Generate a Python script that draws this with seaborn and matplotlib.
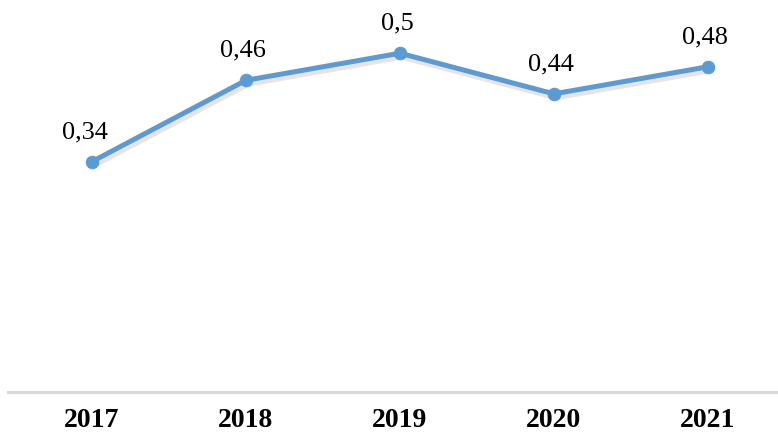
import matplotlib
matplotlib.use('Agg')
import matplotlib.pyplot as plt
import matplotlib.transforms as mtransforms
import seaborn as sns
import pandas as pd

# Data
years = ['2017', '2018', '2019', '2020', '2021']
values = [0.34, 0.46, 0.50, 0.44, 0.48]
labels = ['0,34', '0,46', '0,5', '0,44', '0,48']

df = pd.DataFrame({'year': years, 'value': values})

sns.set_style('white')
plt.rcParams['font.family'] = ['Liberation Serif', 'DejaVu Serif']

fig = plt.figure(figsize=(7.78, 4.35), dpi=100)
ax = fig.add_axes([8 / 778, 42 / 435, 770 / 778, 393 / 435])

line_color = '#5B9BD5'

# soft shadow under the line
shadow = ax.transData + mtransforms.ScaledTranslation(2 / 100, -3 / 100, fig.dpi_scale_trans)
ax.plot(range(len(values)), values, color='#d8c8bc', lw=5, alpha=0.5,
        solid_capstyle='round', zorder=1, transform=shadow)

sns.lineplot(data=df, x='year', y='value', ax=ax, color=line_color, lw=3.6,
             marker='o', markersize=9, markeredgecolor=line_color, sort=False, zorder=3)

for i, (v, lab) in enumerate(zip(values, labels)):
    ax.annotate(lab, (i, v), xytext=(-5 if i == 0 else -2, 22), textcoords='offset points',
                ha='center', va='center', fontsize=19, color='black')

ax.set_xlim(-0.545, 4.455)
ax.set_ylim(0, 0.58)
ax.set_yticks([])
ax.set_xlabel('')
ax.set_ylabel('')
ax.tick_params(axis='x', length=0, pad=11)
for t in ax.get_xticklabels():
    t.set_fontsize(20)
    t.set_fontweight('bold')
    t.set_color('black')

for side in ['top', 'right', 'left']:
    ax.spines[side].set_visible(False)
ax.spines['bottom'].set_color('#d9d9d9')
ax.spines['bottom'].set_linewidth(2.2)

fig.savefig('out.png', dpi=100)
